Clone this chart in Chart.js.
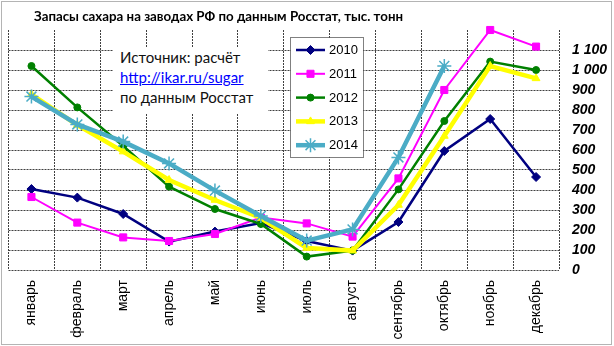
<!DOCTYPE html>
<html>
<head>
<meta charset="utf-8">
<title>Запасы сахара на заводах РФ</title>
<script src="https://cdn.jsdelivr.net/npm/chart.js@4/dist/chart.umd.min.js"></script>
<style>
  body { margin: 0; background: #fff; }
  #wrap { position: relative; width: 614px; height: 346px; overflow: hidden; background: #fff; }
  #frame { position: absolute; left: 1px; top: 1px; width: 611px; height: 344px; box-sizing: border-box;
           border: 1px solid #b4b4b4; pointer-events: none; }
  #title { position: absolute; left: 34px; top: 7.6px; font: bold 13.3px Lato, "Open Sans", sans-serif;
           line-height: 16px; white-space: nowrap; color: #000; }
  #note { position: absolute; left: 113px; top: 47px; width: 155px; height: 66px; box-sizing: border-box;
          padding-left: 7px; background: #fff; font: 15px Lato, "Open Sans", sans-serif; line-height: 20px;
          white-space: nowrap; color: #111; }
  #note a { color: #0000ff; text-decoration: underline; }
</style>
</head>
<body>
<div id="wrap">
  <canvas id="chart" width="614" height="346"></canvas>
  <div id="title">Запасы сахара на заводах РФ по данным Росстат, тыс. тонн</div>
  <div id="note">Источник: расчёт<br><a href="http://ikar.ru/sugar">http://ikar.ru/sugar</a><br>по данным Росстат</div>
  <div id="frame"></div>
</div>
<script>
// Months on the category axis
const months = ['январь', 'февраль', 'март', 'апрель', 'май', 'июнь',
                'июль', 'август', 'сентябрь', 'октябрь', 'ноябрь', 'декабрь'];

// Series names
const years = ['2010', '2011', '2012', '2013', '2014'];

// Sugar stocks at the factories, thousand tonnes, by month
const stock2010 = [405, 362, 280, 142, 192, 235, 145, 97, 240, 595, 755, 465];
const stock2011 = [365, 237, 163, 145, 180, 262, 233, 167, 458, 900, 1200, 1117];
const stock2012 = [1020, 813, 620, 417, 305, 230, 67, 97, 403, 745, 1042, 1000];
const stock2013 = [878, 725, 592, 450, 350, 260, 110, 97, 325, 670, 1020, 958];
const stock2014 = [867, 728, 642, 533, 397, 270, 147, 203, 563, 1020, null, null];

// Value axis labels (the top 1200 line is left unlabelled)
const yTickValues = [0, 100, 200, 300, 400, 500, 600, 700, 800, 900, 1000, 1100];
const yTickLabels = ['0', '100', '200', '300', '400', '500', '600', '700', '800', '900', '1 000', '1 100'];

const seriesValues = [stock2010, stock2011, stock2012, stock2013, stock2014];

// Line and marker look of each year
const seriesStyle = [
  { color: '#000080', width: 2.5, marker: 'rectRot',  radius: 4.5, markerBorder: 1 },
  { color: '#ff00ff', width: 2,   marker: 'rect',     radius: 5,   markerBorder: 1 },
  { color: '#008000', width: 2.5, marker: 'circle',   radius: 3.5, markerBorder: 1 },
  { color: '#ffff00', width: 4.5, marker: 'triangle', radius: 4.5, markerBorder: 1 },
  { color: '#4bacc6', width: 4.5, marker: 'star',     radius: 7,   markerBorder: 1.5 }
];

const datasets = years.map((name, i) => {
  const s = seriesStyle[i];
  return {
    label: name,
    data: seriesValues[i],
    borderColor: s.color,
    backgroundColor: s.color,
    borderWidth: s.width,
    pointStyle: s.marker,
    pointRadius: s.radius,
    pointBorderWidth: s.markerBorder,
    pointBackgroundColor: s.color,
    pointBorderColor: s.color,
    tension: 0,
    clip: false,
    order: years.length - i   // later years are painted on top
  };
});

// Boxed legend placed inside the plot
const legendBox = {
  id: 'legendBox',
  afterDraw(chart) {
    const ctx = chart.ctx;
    const bx = 290.5, by = 37.5, bw = 73, bh = 120;
    ctx.save();
    ctx.fillStyle = '#fff';
    ctx.fillRect(bx, by, bw, bh);
    ctx.setLineDash([1, 1]);
    ctx.strokeStyle = '#000';
    ctx.lineWidth = 1;
    ctx.strokeRect(bx, by, bw, bh);
    ctx.setLineDash([]);
    chart.data.datasets.forEach((ds, i) => {
      const cy = 50 + i * 23.8;
      ctx.strokeStyle = ds.borderColor;
      ctx.lineWidth = ds.borderWidth;
      ctx.beginPath();
      ctx.moveTo(296, cy);
      ctx.lineTo(325, cy);
      ctx.stroke();
      ctx.fillStyle = ds.pointBackgroundColor;
      ctx.strokeStyle = ds.pointBorderColor;
      ctx.lineWidth = ds.pointBorderWidth;
      if (Chart.helpers && Chart.helpers.drawPoint) {
        Chart.helpers.drawPoint(ctx, {
          pointStyle: ds.pointStyle, radius: ds.pointRadius, rotation: 0, borderWidth: ds.pointBorderWidth
        }, 310.5, cy);
      } else {
        ctx.beginPath();
        ctx.arc(310.5, cy, ds.pointRadius, 0, Math.PI * 2);
        ctx.fill();
      }
      ctx.fillStyle = '#000';
      ctx.font = '13px "Liberation Sans", Arial, sans-serif';
      ctx.textAlign = 'left';
      ctx.textBaseline = 'middle';
      ctx.fillText(ds.label, 329, cy + 0.5);
    });
    ctx.restore();
  }
};

const gridColor = '#404040';

new Chart(document.getElementById('chart'), {
  type: 'line',
  data: { labels: months, datasets },
  plugins: [legendBox],
  options: {
    responsive: false,
    animation: false,
    events: [],
    layout: { padding: { left: 5, top: 30, right: 0, bottom: 0 } },
    plugins: {
      legend: { display: false },
      title: { display: false },
      tooltip: { enabled: false }
    },
    scales: {
      x: {
        type: 'category',
        offset: true,
        grid: { offset: true, drawTicks: false, color: gridColor, lineWidth: 1 },
        border: { display: false, dash: [2, 1] },
        ticks: {
          autoSkip: false,
          minRotation: 90,
          maxRotation: 90,
          padding: 10,
          color: '#000',
          font: { family: '"Liberation Sans", Arial, sans-serif', size: 14 }
        },
        afterFit(scale) { scale.height = 76; }
      },
      y: {
        position: 'right',
        min: 0,
        max: 1200,
        grid: {
          drawTicks: false,
          lineWidth: 1,
          color: (c) => (c.tick && c.tick.value === 1200) ? 'rgba(0,0,0,0)' : gridColor
        },
        border: { display: false, dash: [2, 1] },
        ticks: {
          stepSize: 100,
          padding: 13,
          color: '#000',
          font: { family: '"Liberation Sans", Arial, sans-serif', size: 14, weight: 'bold', style: 'italic' },
          callback: (value) => {
            const k = yTickValues.indexOf(value);
            return k >= 0 ? yTickLabels[k] : '';
          }
        },
        afterFit(scale) { scale.width = 55; }
      }
    }
  }
});
</script>
</body>
</html>
